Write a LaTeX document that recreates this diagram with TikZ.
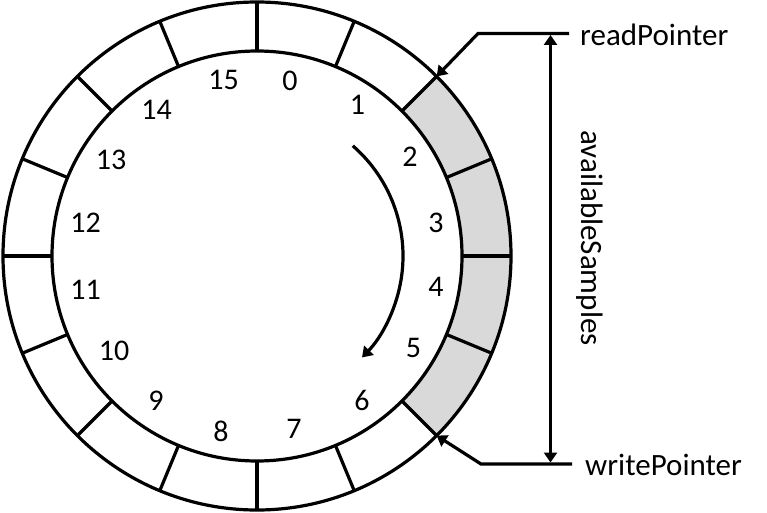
\documentclass[tikz,border=0pt]{standalone}
\usepackage{fontspec}
\setmainfont{Carlito}
\usetikzlibrary{arrows.meta,calc}
\begin{document}
\begin{tikzpicture}[x=1pt,y=-1pt,
  ring/.style={line width=3.2pt},
  lbl/.style={font=\fontsize{31}{36}\selectfont, inner sep=0pt},
  num/.style={font=\fontsize{30}{36}\selectfont, inner sep=0pt},
  tip/.tip={Triangle[length=10pt,width=13pt]},
  ptr/.style={line width=3.2pt, -tip},
  dbl/.style={line width=3.2pt, tip-tip}]
\useasboundingbox (0,0) rectangle (767,513);
\coordinate (c) at (257,256);
% shaded cells 2..5
\fill[black!15] ($(c)+(-45:254)$) arc[start angle=-45,end angle=45,radius=254]
  -- ($(c)+(45:205)$) arc[start angle=45,end angle=-45,radius=205] -- cycle;
% ring
\draw[ring] (c) circle[radius=254];
\draw[ring] (c) circle[radius=205];
\foreach \a in {0,22.5,...,337.5}
  \draw[ring] ($(c)+(\a:205)$) -- ($(c)+(\a:254)$);
% numbers
\node[num] (n15) at (223.5,79.5) {15};
\node[num] (n0)  at (290,80.5) {0};
\node[num] (n1)  at (357.5,104.5) {1};
\node[num] (n2)  at (410,156.5) {2};
\node[num] (n3)  at (436,223) {3};
\node[num] (n4)  at (436,286.5) {4};
\node[num] (n5)  at (413.5,348) {5};
\node[num] (n6)  at (362,400) {6};
\node[num] (n7)  at (294,429) {7};
\node[num] (n8)  at (221,431) {8};
\node[num] (n9)  at (156,401) {9};
\node[num] (n10) at (114,351) {10};
\node[num] (n11) at (85.5,290) {11};
\node[num] (n12) at (85.5,223) {12};
\node[num] (n13) at (111,160) {13};
\node[num] (n14) at (156.5,110) {14};
% inner direction arrow
\draw[ptr] ($(c)+(-49:146)$) coordinate (as) arc[start angle=-49,end angle=44,radius=146] coordinate (ae);
% labels
\node[lbl, anchor=base west] (rp) at (580,46) {readPointer};
\node[lbl, anchor=base west] (wp) at (585,475) {writePointer};
\node[lbl, rotate=-90] (av) at (590,238) {availableSamples};
% pointers
\coordinate (rtip) at ($(c)+(-45:254)$);
\coordinate (wtip) at ($(c)+(45:254)$);
\coordinate (rs) at (569,33.5);
\coordinate (rk) at (478,33.5);
\coordinate (ws) at (572,464);
\coordinate (wk) at (481,464);
\draw[ptr, line join=miter] (rs) -- (rk) -- (rtip);
\draw[ptr, line join=miter] (ws) -- (wk) -- (wtip);
% availableSamples span
\coordinate (vt) at (550.5,35);
\coordinate (vb) at (550.5,462.5);
\draw[dbl] (vt) -- (vb);
\end{tikzpicture}
\end{document}
